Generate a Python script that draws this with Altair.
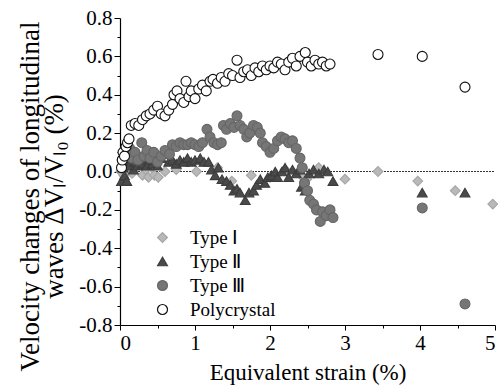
import altair as alt
import pandas as pd

# ---------------- data ----------------
series_names = ["Type Ⅰ", "Type Ⅱ", "Type Ⅲ", "Polycrystal"]

type1_x = [0.01, 0.03, 0.05, 0.08, 0.10, 0.13, 0.16, 0.20, 0.24, 0.27, 0.30, 0.34, 0.38, 0.42,
           0.46, 0.51, 0.60, 0.75, 1.02, 1.30, 1.49, 1.75, 2.00, 2.20, 2.44, 2.49, 2.65, 3.00,
           3.44, 3.97, 4.47, 4.97]
type1_y = [0.00, 0.02, -0.02, 0.03, 0.00, 0.04, -0.01, 0.02, 0.05, 0.06, -0.02, 0.01, -0.03, 0.02,
           -0.02, -0.03, 0.00, 0.01, 0.00, 0.02, -0.05, -0.02, -0.03, 0.01, -0.03, -0.04, 0.02, -0.04,
           0.00, -0.05, -0.10, -0.17]

type2_x = [0.02, 0.04, 0.06, 0.08, 0.09, 0.12, 0.15, 0.18, 0.20, 0.23, 0.26, 0.30, 0.33, 0.36,
           0.40, 0.43, 0.47, 0.50, 0.55, 0.60, 0.65, 0.70, 0.75, 0.80, 0.85, 0.90, 0.95, 1.00,
           1.07, 1.12, 1.18, 1.22, 1.27, 1.31, 1.36, 1.42, 1.47, 1.52, 1.56, 1.60, 1.67, 1.72,
           1.78, 1.82, 1.87, 1.93, 1.97, 2.02, 2.07, 2.10, 2.16, 2.20, 2.25, 2.30, 2.35, 2.40,
           2.42, 2.47, 2.52, 2.58, 2.65, 2.72, 2.77, 2.84, 4.03, 4.60]
type2_y = [-0.05, 0.02, -0.02, 0.05, -0.05, 0.03, 0.07, 0.01, 0.05, 0.03, 0.08, 0.04, 0.06, 0.03,
           0.07, 0.04, 0.06, 0.03, 0.07, 0.09, 0.05, 0.06, 0.04, 0.06, 0.05, 0.07, 0.05, 0.06,
           0.07, 0.05, 0.05, 0.01, -0.02, 0.02, -0.04, -0.05, -0.07, -0.10, -0.09, -0.11, -0.15, -0.11,
           -0.10, -0.07, -0.04, -0.06, -0.03, -0.02, 0.00, -0.03, 0.00, 0.02, -0.03, 0.01, -0.01, 0.01,
           -0.08, -0.10, -0.01, 0.01, -0.01, 0.01, 0.00, -0.05, -0.11, -0.11]

type3_x = [0.03, 0.06, 0.10, 0.13, 0.16, 0.20, 0.24, 0.29, 0.32, 0.36, 0.40, 0.45, 0.50, 0.55,
           0.60, 0.66, 0.70, 0.75, 0.80, 0.85, 0.90, 0.95, 1.00, 1.05, 1.10, 1.16, 1.20, 1.25,
           1.30, 1.35, 1.38, 1.42, 1.47, 1.52, 1.56, 1.60, 1.65, 1.69, 1.73, 1.78, 1.83, 1.87,
           1.90, 1.95, 2.00, 2.05, 2.10, 2.15, 2.20, 2.25, 2.30, 2.35, 2.40, 2.43, 2.46, 2.50,
           2.53, 2.58, 2.62, 2.67, 2.70, 2.75, 2.80, 2.84, 4.03, 4.60]
type3_y = [0.06, 0.10, 0.08, 0.12, 0.07, 0.10, 0.06, 0.15, 0.08, 0.11, 0.07, 0.10, 0.05, 0.08,
           0.11, 0.09, 0.14, 0.13, 0.15, 0.14, 0.14, 0.15, 0.14, 0.13, 0.15, 0.22, 0.18, 0.15,
           0.14, 0.15, 0.24, 0.22, 0.25, 0.23, 0.29, 0.24, 0.22, 0.18, 0.20, 0.24, 0.23, 0.20,
           0.15, 0.13, 0.10, 0.12, 0.16, 0.18, 0.17, 0.15, 0.16, 0.12, 0.07, 0.02, -0.06, -0.10,
           -0.15, -0.17, -0.20, -0.26, -0.21, -0.23, -0.20, -0.24, -0.19, -0.69]

poly_x = [0.02, 0.03, 0.04, 0.06, 0.08, 0.10, 0.12, 0.15, 0.20, 0.25, 0.30, 0.35, 0.40, 0.45,
          0.50, 0.55, 0.60, 0.65, 0.70, 0.72, 0.76, 0.80, 0.85, 0.88, 0.92, 0.95, 1.00, 1.05,
          1.10, 1.15, 1.20, 1.24, 1.30, 1.35, 1.40, 1.45, 1.50, 1.56, 1.60, 1.65, 1.70, 1.75,
          1.80, 1.85, 1.90, 1.95, 2.00, 2.05, 2.10, 2.15, 2.20, 2.25, 2.30, 2.35, 2.40, 2.47,
          2.50, 2.55, 2.60, 2.65, 2.70, 2.75, 2.80, 3.44, 4.03, 4.60]
poly_y = [0.02, 0.06, 0.10, 0.08, 0.13, 0.15, 0.17, 0.24, 0.25, 0.24, 0.27, 0.29, 0.30, 0.32,
          0.34, 0.30, 0.29, 0.32, 0.35, 0.40, 0.42, 0.38, 0.36, 0.47, 0.39, 0.42, 0.38, 0.43,
          0.45, 0.42, 0.47, 0.48, 0.46, 0.49, 0.47, 0.51, 0.50, 0.58, 0.49, 0.52, 0.53, 0.50,
          0.54, 0.52, 0.55, 0.53, 0.55, 0.54, 0.57, 0.56, 0.53, 0.57, 0.59, 0.55, 0.60, 0.62,
          0.57, 0.55, 0.58, 0.56, 0.57, 0.55, 0.56, 0.61, 0.60, 0.44]

x_ticks = [0, 0.5, 1, 1.5, 2, 2.5, 3, 3.5, 4, 4.5, 5]
y_ticks = [round(-0.8 + 0.1 * i, 1) for i in range(17)]

# ---------------- table ----------------
rows = []
for name, xs, ys in [(series_names[0], type1_x, type1_y),
                     (series_names[1], type2_x, type2_y),
                     (series_names[2], type3_x, type3_y),
                     (series_names[3], poly_x, poly_y)]:
    for xv, yv in zip(xs, ys):
        rows.append({"strain": xv, "dv": yv, "series": name})
df = pd.DataFrame(rows)
df["order"] = df["series"].map({n: i for i, n in enumerate(series_names)})

SERIF = "Liberation Serif"

x_scale = alt.Scale(domain=[0, 5], nice=False, zero=False)
y_scale = alt.Scale(domain=[-0.8, 0.8], nice=False)

x_axis = alt.Axis(title="Equivalent strain (%)", values=x_ticks,
                  labelExpr="datum.value % 1 == 0 ? format(datum.value, 'd') : ''",
                  tickSize={"condition": {"test": "datum.value % 1 == 0", "value": 5}, "value": 3},
                  grid=False, labelOverlap=False, labelFont=SERIF, titleFont=SERIF,
                  labelFontSize=21, titleFontSize=23, titlePadding=8)
y_axis = alt.Axis(title=["Velocity changes of longitudinal", "waves ΔVₗ/Vₗ₀ (%)"],
                  values=y_ticks,
                  labelExpr="round(datum.value*10) % 2 == 0 ? (datum.value < -0.001 ? '-' : '') + format(abs(datum.value), '.1f') : ''",
                  tickSize={"condition": {"test": "round(datum.value*10) % 2 == 0", "value": 6}, "value": 3},
                  grid=False, labelOverlap=False, titleAngle=270, titleBaseline="middle",
                  labelFont=SERIF, titleFont=SERIF, labelFontSize=21, titleFontSize=27,
                  titleLineHeight=24, titleX=-90, titleY=178)

legend = alt.Legend(title=None, orient="none", legendX=33, legendY=210,
                    labelFont=SERIF, labelFontSize=19, labelColor="black",
                    symbolStrokeWidth=1.2, labelOffset=18,
                    rowPadding=4, padding=0, symbolOpacity=1)

points = alt.Chart(df).mark_point(filled=True, opacity=1, strokeWidth=1.1).encode(
    x=alt.X("strain:Q", scale=x_scale, axis=x_axis),
    y=alt.Y("dv:Q", scale=y_scale, axis=y_axis),
    shape=alt.Shape("series:N", scale=alt.Scale(domain=series_names,
                    range=["diamond", "triangle-up", "circle", "circle"]), legend=legend),
    fill=alt.Fill("series:N", scale=alt.Scale(domain=series_names,
                  range=["#b9b9b9", "#4a4a4a", "#767676", "#ffffff"]), legend=legend),
    stroke=alt.Stroke("series:N", scale=alt.Scale(domain=series_names,
                      range=["#a5a5a5", "#3c3c3c", "#666666", "#111111"]), legend=legend),
    size=alt.Size("series:N", scale=alt.Scale(domain=series_names, range=[95, 100, 70, 80]),
                  legend=legend),
    order=alt.Order("order:Q"),
)

zero_df = pd.DataFrame({"x0": [0], "x1": [5], "y0": [0]})
zero_line = alt.Chart(zero_df).mark_rule(color="#333333", strokeWidth=1, strokeDash=[2, 1]).encode(
    x=alt.X("x0:Q", scale=x_scale, axis=x_axis), x2="x1:Q",
    y=alt.Y("y0:Q", scale=y_scale, axis=y_axis)
)

chart = alt.layer(zero_line, points).properties(
    width=375, height=307,
    autosize=alt.AutoSizeParams(type="none"),
    padding={"left": 120, "top": 18, "right": 3, "bottom": 65},
    background="white",
).configure_view(stroke=None).configure_axis(
    labelColor="black", titleColor="black", domainColor="black", tickColor="black",
    titleFontWeight="normal", labelPadding=2, domainWidth=1.2, tickWidth=1,
)

chart.save("out.html", embed_options={"renderer": "svg", "actions": False})
